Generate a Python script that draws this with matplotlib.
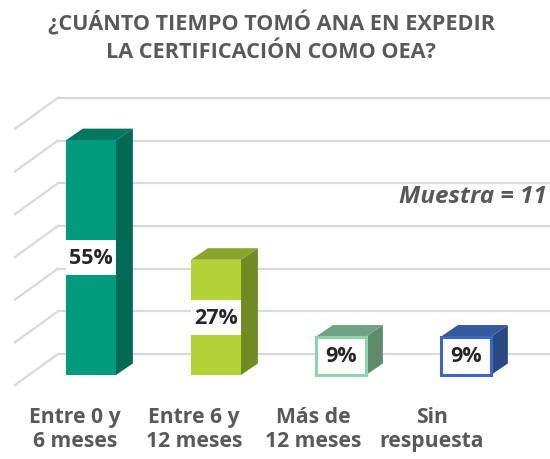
import numpy as np
import matplotlib
matplotlib.use("Agg")
import matplotlib.pyplot as plt
from matplotlib.patches import Polygon, Rectangle

# data
categorias = ["Entre 0 y\n6 meses", "Entre 6 y\n12 meses", "Más de\n12 meses", "Sin\nrespuesta"]
valores = [55, 27, 9, 9]
etiquetas = ["55%", "27%", "9%", "9%"]
grid_vals = [0, 10, 20, 30, 40, 50, 60]
titulo = "¿CUÁNTO TIEMPO TOMÓ ANA EN EXPEDIR\nLA CERTIFICACIÓN COMO OEA?"
muestra = "Muestra = 11"

# colours: front, side, top, edge
frente = ["#009B7D", "#B2D235", "#FFFFFF", "#FFFFFF"]
lado = ["#006B55", "#728A22", "#5E8A6E", "#2A4A85"]
tapa = ["#00785F", "#8BA42B", "#6FA285", "#335A9E"]
borde = ["#009B7D", "#B2D235", "#8FD3A8", "#3A68C4"]

plt.rcParams['font.family'] = ['Open Sans', 'DejaVu Sans']
gris = "#595959"

fig = plt.figure(figsize=(5.5, 4.6), dpi=100)
ax = fig.add_axes([0, 0, 1, 1])
ax.set_xlim(-0.728, 3.672)
ax.set_ylim(-19.67, 88.06)
ax.axis('off')

w = 0.2          # half bar width
ddx, ddy = 0.135, 2.7     # bar depth offset
wall_dx, wall_dy = 0.232, 4.92   # back wall offset from bar front plane
left_back = -0.264
left_front = -0.608

# back wall gridlines + floor/left diagonals
for g in grid_vals:
    yb = g + wall_dy
    ax.plot([left_back, 3.672], [yb, yb], color="#D9D9D9", lw=1.6, zorder=1,
            solid_capstyle='butt')
    ax.plot([left_front, left_back], [g - 2.34, yb], color="#D9D9D9", lw=1.6, zorder=1)

# 3d bars
for i, v in enumerate(valores):
    x0, x1 = i - w, i + w
    side = Polygon([(x1, 0), (x1 + ddx, ddy), (x1 + ddx, v + ddy), (x1, v)],
                   closed=True, facecolor=lado[i], edgecolor='none', zorder=3)
    top = Polygon([(x0, v), (x0 + ddx, v + ddy), (x1 + ddx, v + ddy), (x1, v)],
                  closed=True, facecolor=tapa[i], edgecolor='none', zorder=3)
    ax.add_patch(side)
    ax.add_patch(top)
    lw = 2.2 if frente[i] == "#FFFFFF" else 0
    front = Rectangle((x0, 0), 2 * w, v, facecolor=frente[i], edgecolor=borde[i],
                      lw=lw, zorder=4)
    ax.add_patch(front)
    if v > 15:
        ax.add_patch(Rectangle((x0, v / 2 - 4.1), 2 * w, 8.2, facecolor="white",
                               edgecolor='none', zorder=5))
    ax.text(i, v / 2, etiquetas[i], ha='center', va='center', fontsize=15.5,
            fontweight='bold', color="#262626", zorder=6)

# category labels (front floor plane)
for i, c in enumerate(categorias):
    ax.text(i * 0.952 - 0.128, -12.5, c, ha='center', va='center', fontsize=15.2,
            fontweight='bold', color=gris, linespacing=1.2)

ax.text(3.648, 41.9, muestra, ha='right', va='center', fontsize=17.5,
        fontweight='bold', style='italic', color=gris)

fig.text(0.493, 0.92, titulo, ha='center', va='center', fontsize=15.6,
         fontweight='bold', color=gris, linespacing=1.45)

fig.savefig("out.png", dpi=100)
